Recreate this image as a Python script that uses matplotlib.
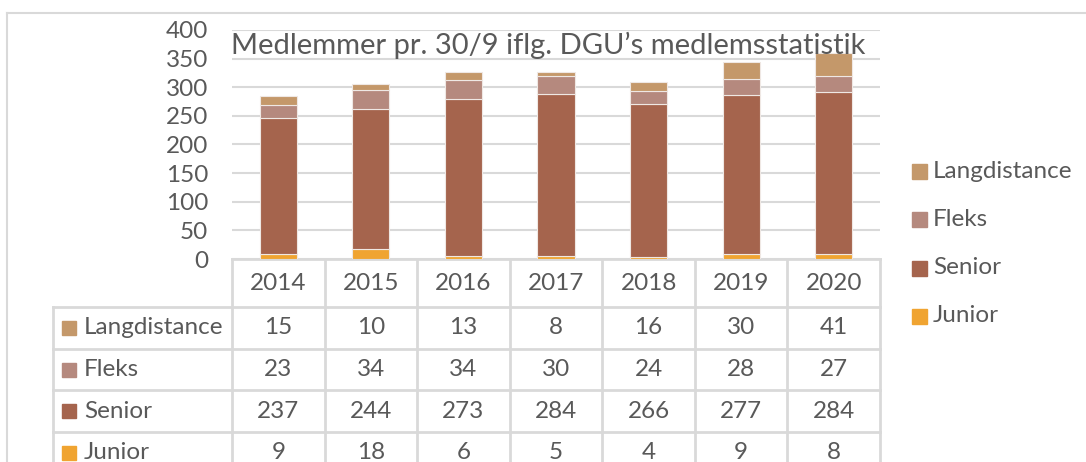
import matplotlib
matplotlib.use("Agg")
import matplotlib.pyplot as plt
import matplotlib.transforms as mtransforms
import numpy as np

plt.rcParams["font.family"] = ["Lato", "DejaVu Sans"]

years = ["2014", "2015", "2016", "2017", "2018", "2019", "2020"]
junior = [9, 18, 6, 5, 4, 9, 8]
senior = [237, 244, 273, 284, 266, 277, 284]
fleks = [23, 34, 34, 30, 24, 28, 27]
langdistance = [15, 10, 13, 8, 16, 30, 41]

series = [("Junior", junior, "#F0A431"),
          ("Senior", senior, "#A5644D"),
          ("Fleks", fleks, "#B5897E"),
          ("Langdistance", langdistance, "#C4986A")]

title = "Medlemmer pr. 30/9 iflg. DGU\u2019s medlemsstatistik"
text_color = "#595959"
grid_color = "#D9D9D9"
fs = 17.5

W, H = 1086, 462
fig = plt.figure(figsize=(W / 100, H / 100), dpi=100)

# overlay in pixel coordinates for frame and table
ov = fig.add_axes([0, 0, 1, 1])
ov.set_xlim(0, W)
ov.set_ylim(H, 0)
ov.axis("off")

# plot area
left, right, top, bottom = 232, 880, 30, 259
ax = fig.add_axes([left / W, 1 - bottom / H, (right - left) / W, (bottom - top) / H])
ax.patch.set_visible(False)
x = np.arange(len(years))
base = np.zeros(len(years))
for name, vals, col in series:
    ax.bar(x, vals, 0.4, bottom=base, color=col, edgecolor="#EFE8E4",
           linewidth=0.8, label=name, zorder=3)
    base += np.array(vals)
ax.set_xlim(-0.5, len(years) - 0.5)
ax.set_ylim(0, 400)
ax.set_yticks(range(0, 401, 50))
ax.set_xticks([])
ax.yaxis.grid(True, color=grid_color, linewidth=1.5, zorder=0)
ax.tick_params(axis="y", length=0, labelsize=fs, labelcolor=text_color, pad=17)
for s in ax.spines.values():
    s.set_visible(False)

# title drawn on top of the bars
ax.text(548, 45, title, transform=ov.transData, ha="center", va="center",
        fontsize=21, color=text_color, zorder=10)

# outer frame
ov.plot([7, 7], [13, H + 5], color=grid_color, lw=1.5)
ov.plot([7, W + 5], [13, 13], color=grid_color, lw=1.5)

# data table below the bars
tr = mtransforms.blended_transform_factory(ax.transData, ov.transData)
row_top = [259, 307, 349, 390, 432]
row_h = 41.7
tab_left = 53
lw_t = 2
ov.plot([left, right], [259, 259], color=grid_color, lw=lw_t)
ov.plot([tab_left, right], [307, 307], color=grid_color, lw=lw_t)
for y in row_top[2:]:
    ov.plot([tab_left, right], [y, y], color=grid_color, lw=lw_t)
ov.plot([tab_left, tab_left], [307, H + 5], color=grid_color, lw=lw_t)
for i in range(len(years) + 1):
    ax_x = i - 0.5
    ov.plot([ax_x, ax_x], [259, H + 5], color=grid_color, lw=lw_t, transform=tr)

for i, yr in enumerate(years):
    ov.text(i, 283, yr, transform=tr, ha="center", va="center",
            fontsize=fs, color=text_color)

for r, (name, vals, col) in enumerate(series[::-1]):
    yc = 307 + row_h * (r + 0.5)
    ov.add_patch(plt.Rectangle((62, yc - 7), 14, 14, color=col))
    ov.text(84, yc, name, ha="left", va="center", fontsize=fs, color=text_color)
    for i, v in enumerate(vals):
        ov.text(i, yc, str(v), transform=tr, ha="center", va="center",
                fontsize=fs, color=text_color)

# legend on the right
for k, (name, vals, col) in enumerate(series[::-1]):
    yc = 171 + 48.3 * k
    ov.add_patch(plt.Rectangle((912, yc - 7), 15, 15, color=col))
    ov.text(933, yc, name, ha="left", va="center", fontsize=fs, color=text_color)

fig.savefig("out.png", dpi=100)
